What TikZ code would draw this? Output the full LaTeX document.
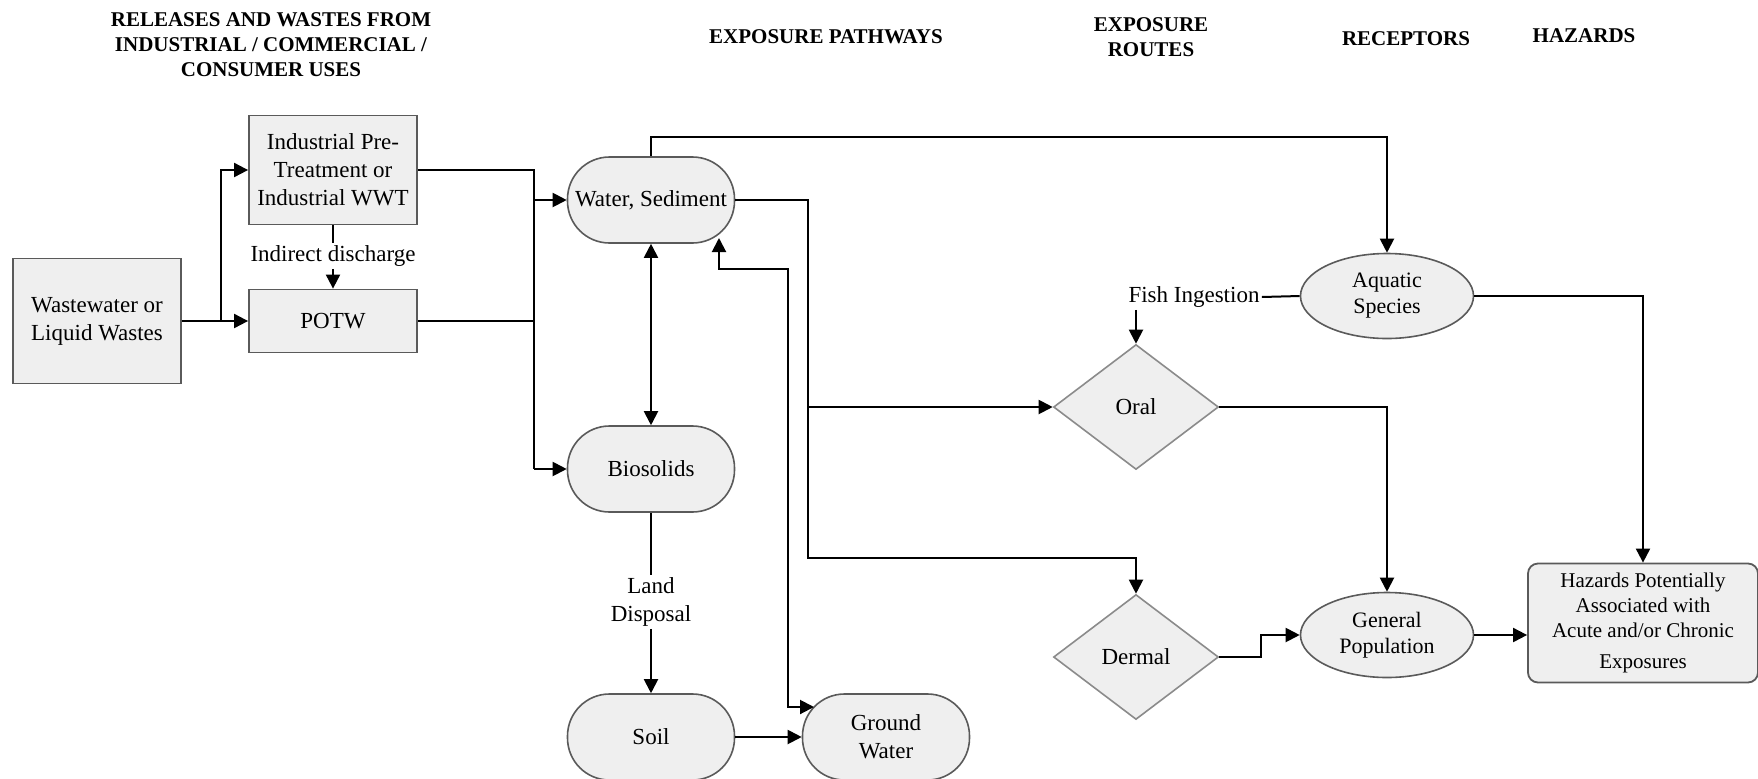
\documentclass[tikz,border=0pt]{standalone}
\usepackage{fontspec}
\setmainfont{Liberation Serif}
\usetikzlibrary{shapes.geometric,arrows.meta}
\definecolor{boxfill}{HTML}{EFEFEF}
\definecolor{boxline}{HTML}{5A5A5A}

\begin{document}
\begin{tikzpicture}[x=0.5pt,y=-0.5pt,
  box/.style={rectangle, fill=boxfill, draw=boxline, line width=0.9pt, align=center, font=\fontsize{11.5}{14}\selectfont},
  pill/.style={rectangle, rounded corners=21pt, fill=boxfill, draw=boxline, line width=0.8pt, minimum width=83.5pt, minimum height=43pt, align=center, font=\fontsize{11.5}{14}\selectfont},
  oval/.style={ellipse, fill=boxfill, draw=boxline, line width=0.8pt, minimum width=86.5pt, minimum height=42.5pt, inner sep=1pt, align=center, font=\fontsize{11}{13}\selectfont},
  route/.style={diamond, fill=boxfill, draw=boxline!70, line width=0.8pt, aspect=1.3, minimum width=82.5pt, minimum height=62.5pt, font=\fontsize{11.5}{14}\selectfont},
  head/.style={align=center, font=\bfseries\fontsize{10.5}{12.5}\selectfont},
  lbl/.style={align=center, inner sep=1pt, font=\fontsize{11.5}{14}\selectfont},
  link/.style={line width=1pt},
  flow/.style={line width=1pt, -{Triangle[length=7pt,width=7pt]}},
  both/.style={line width=1pt, {Triangle[length=7pt,width=7pt]}-{Triangle[length=7pt,width=7pt]}},
]
\useasboundingbox (0,0) rectangle (1758,778);

% column headings
\node[head] (hrel) at (271,45) {RELEASES AND WASTES FROM\\INDUSTRIAL / COMMERCIAL /\\CONSUMER USES};
\node[head] (hpath) at (826,37) {EXPOSURE PATHWAYS};
\node[head] (hroute) at (1151,37) {EXPOSURE\\ROUTES};
\node[head] (hrec) at (1406,39) {RECEPTORS};
\node[head] (hhaz) at (1584,36) {HAZARDS};

% releases
\node[box, minimum width=84pt, minimum height=62.5pt] (ww) at (97,321) {Wastewater or\\Liquid Wastes};
\node[box, minimum width=84pt, minimum height=54.5pt] (ind) at (333,170) {Industrial Pre-\\Treatment or\\Industrial WWT};
\node[box, minimum width=84pt, minimum height=31.5pt] (potw) at (333,321) {POTW};
\node[lbl] (indis) at (333,256) {Indirect discharge};

% pathways
\node[pill] (water) at (651,200) {Water, Sediment};
\node[pill] (bio) at (651,469) {Biosolids};
\node[lbl] (land) at (651,602) {Land\\Disposal};
\node[pill] (soil) at (651,737) {Soil};
\node[pill] (gw) at (886,737) {Ground\\Water};

% routes
\node[route] (oral) at (1136,407) {Oral};
\node[route] (derm) at (1136,657) {Dermal};
\node[lbl] (fish) at (1194,297) {Fish Ingestion};

% receptors and hazards
\node[oval] (aq) at (1387,296) {Aquatic\\Species};
\node[oval] (gp) at (1387,635) {General\\Population};
\node[box, rounded corners=5pt, minimum width=115pt, minimum height=59.5pt, font=\fontsize{10.5}{12.5}\selectfont] (haz) at (1643,623) {Hazards Potentially\\Associated with\\Acute and/or Chronic\\[3pt]Exposures};

% connectors
\coordinate (wwj) at (221,321);
\draw[link] (ww.east) -- (wwj);
\draw[flow] (wwj) |- (ind.west);
\draw[flow] (wwj) -- (potw.west);
\draw[link] (ind.south) -- (indis.north);
\draw[flow] (indis.south) -- (potw.north);

\coordinate (bus) at (534,469);
\draw[link] (ind.east) -| (bus);
\draw[link] (potw.east) -- (potw.east -| bus);
\draw[flow] (bus |- water.west) -- (water.west);
\draw[flow] (bus) -- (bio.west);

\draw[both] (water.south) -- (bio.north);
\coordinate (aqin) at (1387,137);
\draw[flow] (water.north) |- (aqin) -- (aq.north);

\draw[link] (bio.south) -- (land.north);
\draw[flow] (land.south) -- (soil.north);
\draw[flow] (soil.east) -- (gw.west);

\coordinate (wsr) at (719,238);
\coordinate (gwa) at (788,269);
\coordinate (gwl) at (814,707);
\draw[both] (wsr) |- (gwa) |- (gwl);

\coordinate (wsj) at (808,558);
\draw[flow] (water.east) -| (wsj) -| (derm.north);
\draw[flow] (wsj |- oral.west) -- (oral.west);

\draw[link] (fish.east) -- (aq.west);
\draw[flow] (fish.south -| oral.north) -- (oral.north);
\draw[flow] (oral.east) -| (gp.north);
\draw[flow] (aq.east) -| (haz.north);
\coordinate (dj) at (1261,657);
\draw[flow] (derm.east) -- (dj) |- (gp.west);
\draw[flow] (gp.east) -- (gp.east -| haz.west);
\end{tikzpicture}
\end{document}
